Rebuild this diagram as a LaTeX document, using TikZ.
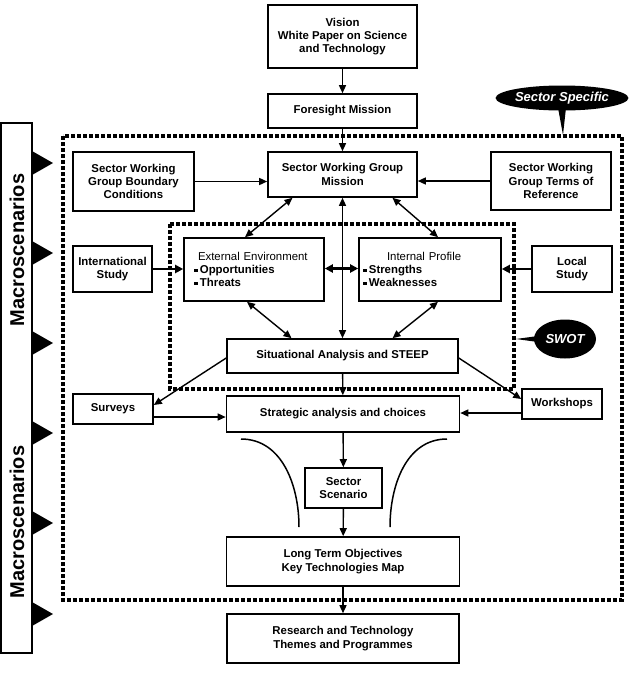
\documentclass[tikz,border=0pt]{standalone}
\usepackage{fontspec}
\setmainfont{Liberation Sans}
\usetikzlibrary{arrows.meta, shapes.geometric}

\tikzstyle{boite} = [rectangle, draw, line width=1.6pt, text centered, align=center, inner sep=2pt, font=\bfseries\fontsize{11.4}{13.4}\selectfont]
\tikzstyle{liste} = [rectangle, draw, line width=1.6pt, align=left, inner ysep=2pt, font=\bfseries\fontsize{11.4}{13.4}\selectfont]
\tikzstyle{fleche} = [line width=1.4pt, -{Triangle[length=8pt, width=7pt]}]
\tikzstyle{fleche2} = [line width=1.4pt, {Triangle[length=8pt, width=7pt]}-{Triangle[length=8pt, width=7pt]}]
\tikzstyle{flechegrasse} = [line width=2.4pt, -{Triangle[length=8pt, width=8pt]}]
\tikzstyle{flechegrasse2} = [line width=2.4pt, {Triangle[length=8pt, width=8pt]}-{Triangle[length=8pt, width=8pt]}]
\tikzstyle{cadre} = [line width=3.6pt, dash pattern=on 3.6pt off 2.4pt]
\tikzstyle{bulle} = [ellipse, fill=black, text=white, inner sep=0pt, font=\bfseries\itshape\fontsize{13}{15}\selectfont]
\tikzstyle{courbe} = [line width=1.5pt]

\newcommand{\puce}{\rule[1.5pt]{4pt}{3.5pt}\,}

\begin{document}
\begin{tikzpicture}[x=1pt, y=-1pt]

    \useasboundingbox (0,0) rectangle (629,673);

    %  bandeau de gauche
    \draw[line width=1.6pt] (1,123) rectangle (32,653);
    \node[rotate=90, font=\bfseries\fontsize{20}{24}\selectfont] (M1) at (17,250) {Macroscenarios};
    \node[rotate=90, font=\bfseries\fontsize{20}{24}\selectfont] (M2) at (17,522) {Macroscenarios};
    \fill (32,151) -- (53,163) -- (32,175) -- cycle;
    \fill (32,241) -- (53,253) -- (32,265) -- cycle;
    \fill (32,331) -- (53,343) -- (32,355) -- cycle;
    \fill (32,421) -- (53,433) -- (32,445) -- cycle;
    \fill (32,511) -- (53,523) -- (32,535) -- cycle;
    \fill (32,602) -- (53,614) -- (32,626) -- cycle;

    %  cadres pointilles
    \draw[cadre] (63,136) rectangle (622,600);
    \draw[cadre] (170,224) rectangle (514,389);

    %-------------------------------------------------------------
    \node[boite, minimum width=149, minimum height=63] (V) at (342.5,36.5) {Vision\\White Paper on Science\\and Technology};
    \node[boite, minimum width=149, minimum height=34] (F) at (342.5,111) {Foresight Mission};
    \node[boite, minimum width=149, minimum height=45] (SM) at (342.5,174.5) {Sector Working Group\\Mission};
    \node[boite, minimum width=121, minimum height=59] (SB) at (133.5,181.5) {Sector Working\\Group Boundary\\Conditions};
    \node[boite, minimum width=120, minimum height=58] (ST) at (551,181) {Sector Working\\Group Terms of\\Reference};

    %-------------------------------------------------------------
    \node[boite, minimum width=79, minimum height=46] (IS) at (112.5,269) {International\\Study};
    \node[liste, text width=120, inner xsep=10pt, minimum height=63] (EE) at (254,269.5) {\hspace*{4pt}{\mdseries External Environment}\\\puce Opportunities\\\puce Threats};
    \node[liste, text width=134, inner xsep=4pt, minimum height=63] (IP) at (430,269.5) {\hspace*{24pt}{\mdseries Internal Profile}\\\puce Strengths\\\puce Weaknesses};
    \node[boite, minimum width=80, minimum height=46] (LS) at (572,269) {Local\\Study};

    %-------------------------------------------------------------
    \node[boite, minimum width=231, minimum height=34] (SA) at (342.5,356) {Situational Analysis and STEEP};
    \node[boite, minimum width=80, minimum height=30] (SU) at (113,409) {Surveys};
    \node[boite, minimum width=233, minimum height=36] (SC) at (343,414) {Strategic analysis and choices};
    \node[boite, minimum width=80, minimum height=30] (W) at (562,404) {Workshops};
    \node[boite, minimum width=77, minimum height=40] (SS) at (343.5,488) {Sector\\Scenario};
    \node[boite, minimum width=233, minimum height=49] (LT) at (343,561.5) {Long Term Objectives\\Key Technologies Map};
    \node[boite, minimum width=232, minimum height=49] (R) at (343,638.5) {Research and Technology\\Themes and Programmes};

    %  bulles
    \node[bulle, minimum width=109, minimum height=25] (B1) at (562,98) {Sector Specific};
    \coordinate (B1p) at (563,135);
    \fill ([xshift=-4pt, yshift=3pt]B1.south) -- ([xshift=4pt, yshift=3pt]B1.south) -- (B1p) -- cycle;
    \node[bulle, minimum width=62, minimum height=39] (B2) at (565,339) {SWOT};
    \coordinate (B2p) at (516,339);
    \fill ([xshift=4pt, yshift=3pt]B2.west) -- ([xshift=4pt, yshift=-3pt]B2.west) -- (B2p) -- cycle;

    %  fleches
    \draw[fleche] (V) -- (F);
    \draw[fleche] (F) -- (SM);
    \draw[fleche] (SB) -- (SM.west |- SB);
    \draw[fleche] (ST) -- (SM.east |- ST);
    \draw[fleche2] ([xshift=-50pt]SM.south) -- ([xshift=-9pt]EE.north);
    \draw[fleche2] ([xshift=50pt]SM.south) -- ([xshift=8pt]IP.north);
    \draw[fleche2] (SM.south) -- (SA.north);
    \draw[flechegrasse] (IS) -- (EE.west |- IS);
    \draw[flechegrasse2] ([yshift=1pt]EE.east) -- ([yshift=1pt]IP.west);
    \draw[flechegrasse] (LS) -- (IP.east |- LS);
    \draw[fleche2] ([xshift=-7pt]EE.south) -- ([xshift=-51pt]SA.north);
    \draw[fleche2] ([xshift=8pt]IP.south) -- ([xshift=50pt]SA.north);
    \draw[fleche] (SA) -- (SC);
    \draw[fleche] ([yshift=-2pt]SA.west) -- ([yshift=4pt]SU.east);
    \draw[fleche] ([yshift=-2pt]SA.east) -- ([yshift=5pt]W.west);
    \draw[fleche] ([yshift=-8pt]SU.east) -- ([yshift=-8pt]SU.east -| SC.west);
    \draw[fleche] ([yshift=-9pt]W.west) -- ([yshift=-9pt]W.west -| SC.east);
    \draw[fleche] (SC) -- (SS);
    \draw[fleche] (SS) -- (LT);
    \draw[fleche] (LT) -- (R);

    %  courbes
    \coordinate (c1) at (241,439);
    \coordinate (c2) at (299,527);
    \coordinate (c3) at (447,439);
    \coordinate (c4) at (390,527);
    \draw[courbe] (c1) to[out=0, in=90] (c2);
    \draw[courbe] (c3) to[out=180, in=90] (c4);

\end{tikzpicture}
\end{document}
